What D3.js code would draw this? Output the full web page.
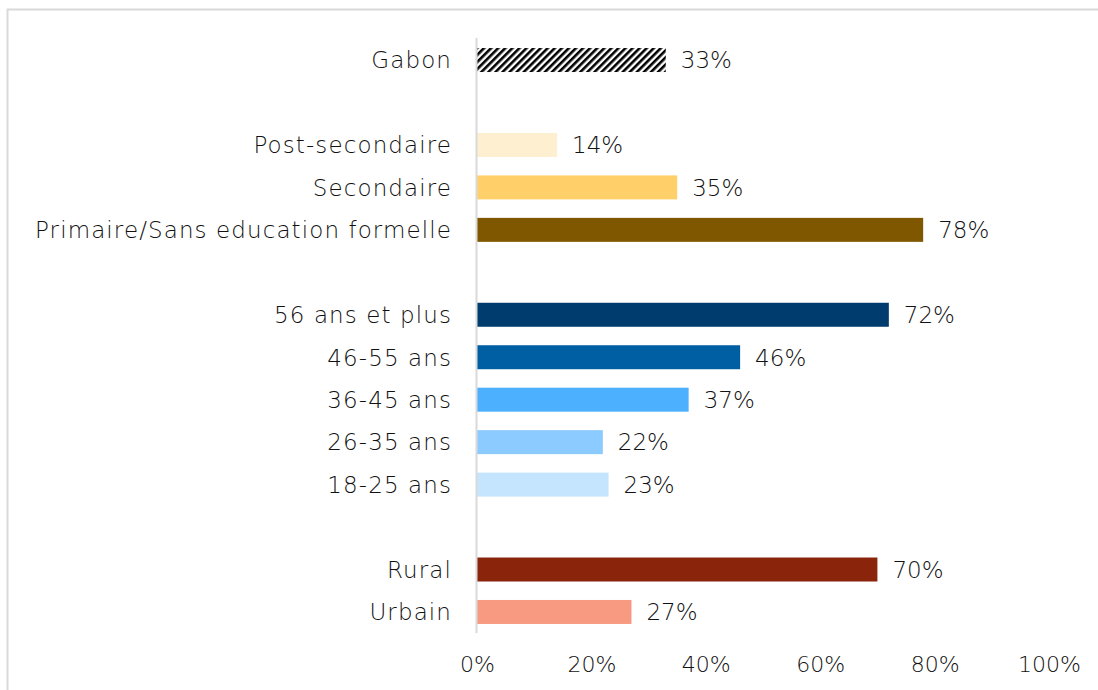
<!DOCTYPE html>
<html>
<head>
<meta charset="utf-8">
<script src="https://cdn.jsdelivr.net/npm/d3@7"></script>
<style>
  body { margin: 0; background: #fff; }
  svg { display: block; font-family: "DejaVu Sans", sans-serif; }
</style>
</head>
<body>
<div id="chart"></div>
<script>
// Row labels top to bottom, blank strings are the gaps between groups
const categories = ['Gabon', '', 'Post-secondaire', 'Secondaire', 'Primaire/Sans education formelle', '',
  '56 ans et plus', '46-55 ans', '36-45 ans', '26-35 ans', '18-25 ans', '', 'Rural', 'Urbain'];
const values = [33, null, 14, 35, 78, null, 72, 46, 37, 22, 23, null, 70, 27];
const colors = ['hatch', null, '#feefd0', '#ffd06a', '#7f5700', null,
  '#003c6e', '#005ea3', '#4db0ff', '#8ccbff', '#c5e5ff', null, '#8a250b', '#f89a82'];
const xTicks = [0, 20, 40, 60, 80, 100];

const width = 1098, height = 690;
const svg = d3.select('#chart').append('svg')
  .attr('width', width)
  .attr('height', height);

// Hatch pattern for the national bar
const pat = svg.append('defs').append('pattern')
  .attr('id', 'hatch')
  .attr('patternUnits', 'userSpaceOnUse')
  .attr('width', 5)
  .attr('height', 5)
  .attr('patternTransform', 'rotate(45)');
pat.append('rect').attr('width', 5).attr('height', 5).attr('fill', '#fff');
pat.append('rect').attr('x', 0).attr('width', 2.6).attr('height', 5).attr('fill', '#000');

// Outer chart frame
svg.append('rect')
  .attr('x', 7.5).attr('y', 9.5)
  .attr('width', 1100).attr('height', 700)
  .attr('fill', 'none')
  .attr('stroke', '#d9d9d9')
  .attr('stroke-width', 2);

const x = d3.scaleLinear().domain([0, 100]).range([477, 1049]);
const y = d3.scaleBand()
  .domain(d3.range(categories.length))
  .range([38.8, 633.2])
  .paddingInner(0.435)
  .paddingOuter(0.2175);

const rows = categories.map((c, i) => ({ label: c, value: values[i], color: colors[i], i }))
  .filter(d => d.value !== null);

// Bars
svg.append('g')
  .selectAll('rect')
  .data(rows)
  .join('rect')
  .attr('x', x(0))
  .attr('y', d => y(d.i))
  .attr('width', d => x(d.value) - x(0))
  .attr('height', y.bandwidth())
  .attr('fill', d => d.color === 'hatch' ? 'url(#hatch)' : d.color);

// Vertical axis line
svg.append('line')
  .attr('x1', x(0) - 0.5).attr('x2', x(0) - 0.5)
  .attr('y1', 38).attr('y2', 633)
  .attr('stroke', '#d9d9d9')
  .attr('stroke-width', 2);

// Category labels
svg.append('g')
  .selectAll('text')
  .data(rows)
  .join('text')
  .attr('x', 452)
  .attr('y', d => y(d.i) + y.bandwidth() / 2)
  .attr('dy', '0.36em')
  .attr('text-anchor', 'end')
  .attr('font-size', 23)
  .attr('font-weight', 200)
  .attr('letter-spacing', 1.1)
  .attr('fill', '#111')
  .text(d => d.label);

// Value labels
svg.append('g')
  .selectAll('text')
  .data(rows)
  .join('text')
  .attr('x', d => x(d.value) + 15)
  .attr('y', d => y(d.i) + y.bandwidth() / 2)
  .attr('dy', '0.36em')
  .attr('font-size', 23)
  .attr('font-weight', 200)
  .attr('fill', '#111')
  .text(d => d.value + '%');

// Bottom tick labels
const xAxis = d3.axisBottom(x)
  .tickValues(xTicks)
  .tickFormat(d => d + '%')
  .tickSize(0)
  .tickPadding(0);
const gx = svg.append('g')
  .attr('transform', 'translate(0,656)')
  .call(xAxis);
gx.select('.domain').remove();
gx.selectAll('text')
  .attr('font-size', 22)
  .attr('font-weight', 200)
  .attr('font-family', '"DejaVu Sans", sans-serif')
  .attr('fill', '#111');
</script>
</body>
</html>
